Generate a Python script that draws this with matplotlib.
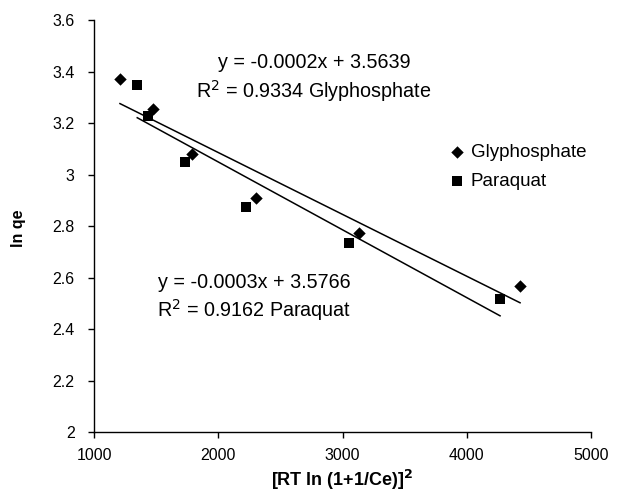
import numpy as np
import matplotlib
matplotlib.use("Agg")
import matplotlib.pyplot as plt

plt.rcParams['font.family'] = ['Liberation Sans', 'DejaVu Sans']

# Data
glyph_x = [1209, 1472, 1786, 2301, 3133, 4429]
glyph_y = [3.370, 3.253, 3.079, 2.910, 2.775, 2.568]
para_x = [1348, 1437, 1732, 2221, 3052, 4268]
para_y = [3.348, 3.229, 3.048, 2.876, 2.736, 2.516]

x_ticks = [1000, 2000, 3000, 4000, 5000]
y_ticks = [2, 2.2, 2.4, 2.6, 2.8, 3, 3.2, 3.4, 3.6]
y_ticklabels = ['2', '2.2', '2.4', '2.6', '2.8', '3', '3.2', '3.4', '3.6']

W, H = 622, 504
fig = plt.figure(figsize=(W/100, H/100), dpi=100)
ax = fig.add_axes([94/W, 1-432.3/H, (591-94)/W, (432.3-20)/H])

ax.scatter(glyph_x, glyph_y, marker='D', s=40, color='black', linewidths=0, label='Glyphosphate', zorder=3)
ax.scatter(para_x, para_y, marker='s', s=50, color='black', linewidths=0, label='Paraquat', zorder=3)

for xs, ys in [(glyph_x, glyph_y), (para_x, para_y)]:
    m, b = np.polyfit(xs, ys, 1)
    xx = np.array([min(xs), max(xs)])
    ax.plot(xx, m*xx + b, color='black', lw=1.1, zorder=2)

ax.set_xlim(1000, 5000)
ax.set_ylim(2, 3.6)
ax.set_xticks(x_ticks)
ax.set_yticks(y_ticks)
ax.set_yticklabels(y_ticklabels)
ax.tick_params(direction='out', length=4, width=1, labelsize=11.5, colors='black')
ax.tick_params(axis='y', pad=10)
ax.tick_params(axis='x', pad=7)
for s in ['top', 'right']:
    ax.spines[s].set_visible(False)
for s in ['left', 'bottom']:
    ax.spines[s].set_linewidth(1)

fig.text(342/W, 1-480/H, '[RT ln (1+1/Ce)]$^\\mathbf{2}$', ha='center', va='center',
         fontsize=13, fontweight='bold')
fig.text(18/W, 1-228/H, 'ln qe', ha='center', va='center', rotation=90,
         fontsize=11.5, fontweight='bold')

fs = 14.2
fig.text(314/W, 1-63/H, 'y = -0.0002x + 3.5639', ha='center', va='center', fontsize=fs)
fig.text(314/W, 1-91/H, 'R$^2$ = 0.9334 Glyphosphate', ha='center', va='center', fontsize=fs)
fig.text(254/W, 1-282/H, 'y = -0.0003x + 3.5766', ha='center', va='center', fontsize=fs)
fig.text(254/W, 1-310/H, 'R$^2$ = 0.9162 Paraquat', ha='center', va='center', fontsize=fs)

ax.legend(loc='upper left', bbox_to_anchor=(448/W, 1-144/H), bbox_transform=fig.transFigure,
          frameon=False, fontsize=13.5, handletextpad=0.2, handlelength=1.0, labelspacing=0.6,
          borderpad=0, borderaxespad=0, scatterpoints=1)

fig.savefig('out.png', dpi=100)
